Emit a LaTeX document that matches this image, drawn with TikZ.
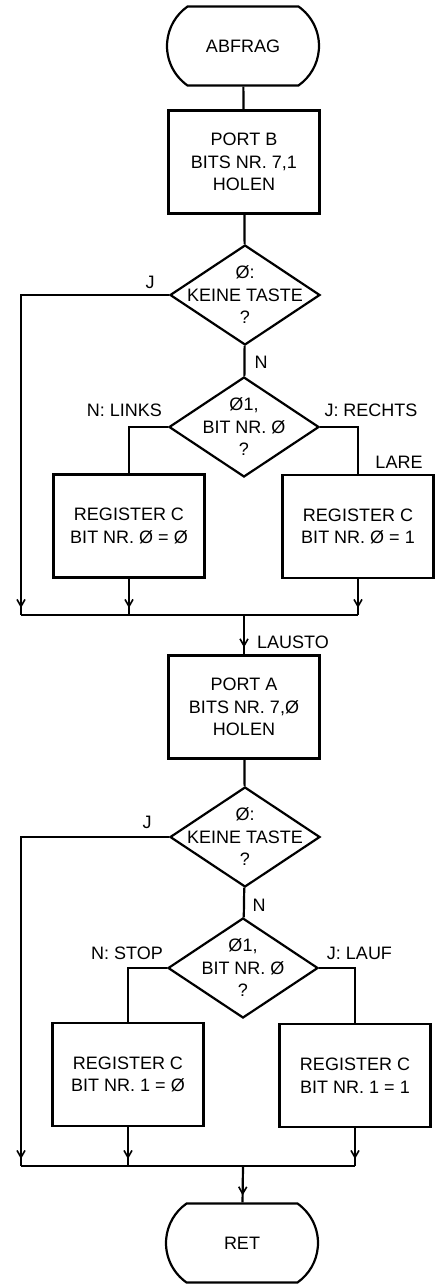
\documentclass[tikz,border=0pt]{standalone}
\usepackage{fontspec}
\setmainfont{Liberation Sans}
\usetikzlibrary{shapes.geometric,shapes.misc,arrows.meta,decorations.markings}
\begin{document}
\begin{tikzpicture}[x=1pt,y={(0pt,-1pt)},
  every node/.style={font=\fontsize{18}{22.5}\selectfont, align=center},
  ln/.style={line width=2.2pt},
  term/.style={ln, draw, rounded rectangle, rounded rectangle arc length=110, minimum width=152pt, minimum height=79pt, inner sep=0pt},
  box/.style={ln, draw, rectangle, minimum width=151pt, minimum height=103pt, inner sep=0pt},
  dia/.style={ln, draw, diamond, minimum width=150pt, minimum height=100pt, inner sep=0pt},
  txt/.style={inner sep=0pt},
  arrmid/.style={postaction={decorate}, decoration={markings, mark=at position -7pt with {\arrow[line width=1.6pt]{Straight Barb[length=7pt,width=8pt]}}}}
]
\fill[white] (0,0) rectangle (440,1284);
\useasboundingbox (0,0) rectangle (440,1284);

% first half
\node[term] (start) at (243,46) {ABFRAG};
\node[box] (pb) at (244,162) {PORT B\\BITS NR. 7,1\\HOLEN};
\node[dia] (d1) at (245,295) {};
\node[txt] (d1t) at (d1) {Ø:\\KEINE TASTE\\?};
\node[dia] (d2) at (244,427) {};
\node[txt] (d2t) at (d2) {Ø1,\\BIT NR. Ø\\?};
\node[box] (bl1) at (129,526) {REGISTER C\\BIT NR. Ø = Ø};
\node[box] (br1) at (358,526.5) {REGISTER C\\BIT NR. Ø = 1};

\coordinate (m1l) at (21,615);
\coordinate (m1c) at (244,615);
\coordinate (m1r) at (358,615);

\node[txt] (j1) at (150,282) {J};
\node[txt] (n1) at (261,362) {N};
\node[txt] (links) at (124.5,410) {N: LINKS};
\node[txt] (rechts) at (371,410) {J: RECHTS};
\node[txt] (lare) at (399,462) {LARE};

\draw[ln] (start) -- (pb);
\draw[ln] (pb) -- (d1);
\draw[ln] (d1) -- (d2);
\draw[ln, arrmid] (d1.west) -| (m1l);
\draw[ln] (d2.west) -| (bl1.north);
\draw[ln] (d2.east) -| (br1.north);
\draw[ln, arrmid] (bl1.south) -- (bl1.south |- m1l);
\draw[ln, arrmid] (br1.south) -- (m1r);
\draw[ln] (m1l) -- (m1r);

% second half
\node[box] (pa) at (244,707) {PORT A\\BITS NR. 7,Ø\\HOLEN};
\node[txt] (lausto) at (257,642) [anchor=west] {LAUSTO};
\draw[ln, arrmid] (m1c) -- (pa);

\node[dia] (d3) at (245,837) {};
\node[txt] (d3t) at (d3) {Ø:\\KEINE TASTE\\?};
\node[dia] (d4) at (243,968) {};
\node[txt] (d4t) at (d4) {Ø1,\\BIT NR. Ø\\?};
\node[box] (bl2) at (128,1074.5) {REGISTER C\\BIT NR. 1 = Ø};
\node[box] (br2) at (355,1075.5) {REGISTER C\\BIT NR. 1 = 1};

\coordinate (m2l) at (21,1166);
\coordinate (m2c) at (243,1166);
\coordinate (m2r) at (355,1166);

\node[txt] (j2) at (147,822) {J};
\node[txt] (n2) at (259,905) {N};
\node[txt] (stop) at (127,953) {N: STOP};
\node[txt] (lauf) at (359.5,953) {J: LAUF};

\node[term] (ret) at (242,1243) {RET};

\draw[ln] (pa) -- (d3);
\draw[ln] (d3) -- (d4);
\draw[ln, arrmid] (d3.west) -| (m2l);
\draw[ln] (d4.west) -| (bl2.north);
\draw[ln] (d4.east) -| (br2.north);
\draw[ln, arrmid] (bl2.south) -- (bl2.south |- m2l);
\draw[ln, arrmid] (br2.south) -- (m2r);
\draw[ln] (m2l) -- (m2r);
\draw[ln, arrmid] (m2c) -- (ret);
\end{tikzpicture}
\end{document}
